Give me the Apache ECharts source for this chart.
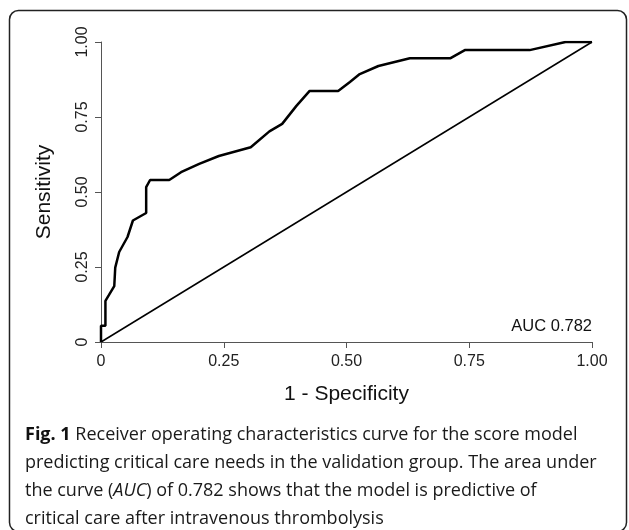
<!DOCTYPE html>
<html>
<head>
<meta charset="utf-8">
<script src="https://cdn.jsdelivr.net/npm/echarts@6/dist/echarts.min.js"></script>
<style>
  html, body { margin: 0; padding: 0; background: #fff; }
  #chart { width: 629px; height: 530px; }
</style>
</head>
<body>
<div id="chart"></div>
<script>
// ROC curve points
const fpr = [0, 0, 0.009, 0.009, 0.016, 0.027, 0.029, 0.037, 0.054, 0.065, 0.092, 0.092, 0.10,
  0.139, 0.163, 0.20, 0.24, 0.305, 0.343, 0.369, 0.398, 0.425, 0.483, 0.507, 0.527, 0.565,
  0.629, 0.712, 0.741, 0.873, 0.946, 1.0];
const tpr = [0, 0.054, 0.054, 0.137, 0.156, 0.186, 0.248, 0.30, 0.35, 0.405, 0.43, 0.516, 0.54,
  0.54, 0.566, 0.594, 0.62, 0.649, 0.702, 0.727, 0.787, 0.837, 0.837, 0.867, 0.893, 0.92,
  0.946, 0.946, 0.973, 0.973, 1.0, 1.0];
// reference diagonal
const diagX = [0, 1];
const diagY = [0, 1];

const tickLabel = (v) => (v === 0 ? "0" : v.toFixed(2));

let chart = echarts.init(document.getElementById("chart"), null, { renderer: "canvas" });

let option = {
  backgroundColor: "#fff",
  animation: false,
  grid: { left: 101, right: 37, top: 42, bottom: 188 },
  xAxis: {
    type: "value",
    min: 0,
    max: 1,
    interval: 0.25,
    name: "1 - Specificity",
    nameLocation: "middle",
    nameGap: 42,
    nameTextStyle: { fontFamily: "Liberation Sans", fontSize: 21, color: "#111" },
    axisLine: { lineStyle: { color: "#555", width: 1 } },
    axisTick: { show: true, length: 6, lineStyle: { color: "#555" } },
    axisLabel: { formatter: tickLabel, fontFamily: "Liberation Sans", fontSize: 16, color: "#222", margin: 12 },
    splitLine: { show: false },
  },
  yAxis: {
    type: "value",
    min: 0,
    max: 1,
    interval: 0.25,
    name: "Sensitivity",
    nameLocation: "middle",
    nameGap: 46,
    nameRotate: 90,
    nameTextStyle: { fontFamily: "Liberation Sans", fontSize: 21, color: "#111" },
    axisLine: { show: true, lineStyle: { color: "#555", width: 1 } },
    axisTick: { show: true, length: 6, lineStyle: { color: "#555" } },
    axisLabel: { formatter: tickLabel, rotate: 90, fontFamily: "Liberation Sans", fontSize: 16, color: "#222", margin: 10 },
    splitLine: { show: false },
  },
  series: [
    {
      name: "ROC",
      type: "line",
      data: fpr.map((x, i) => [x, tpr[i]]),
      symbol: "none",
      lineStyle: { color: "#000", width: 2.5 },
      z: 3,
    },
    {
      name: "diagonal",
      type: "line",
      data: diagX.map((x, i) => [x, diagY[i]]),
      symbol: "none",
      lineStyle: { color: "#000", width: 1.5 },
      z: 2,
    },
  ],
  graphic: [
    {
      type: "rect",
      shape: { x: 9.5, y: 10.5, width: 617, height: 521, r: 9 },
      style: { fill: "none", stroke: "#222", lineWidth: 1.5 },
      silent: true,
    },
    {
      type: "text",
      right: 37,
      top: 318,
      style: { text: "AUC 0.782", font: "16.5px 'Liberation Sans'", fill: "#111", textAlign: "right" },
    },
    {
      type: "text",
      left: 25,
      top: 421,
      style: {
        text:
          "{b|Fig. 1} Receiver operating characteristics curve for the score model\n" +
          "predicting critical care needs in the validation group. The area under\n" +
          "the curve ({i|AUC}) of 0.782 shows that the model is predictive of\n" +
          "critical care after intravenous thrombolysis",
        font: "18px 'Open Sans'",
        fill: "#1a1a1a",
        lineHeight: 28,
        rich: {
          b: { fontWeight: "bold", fontFamily: "Open Sans", fontSize: 18, fill: "#111", lineHeight: 28 },
          i: { fontStyle: "italic", fontFamily: "Open Sans", fontSize: 18, fill: "#1a1a1a", lineHeight: 28 },
        },
      },
    },
  ],
};

chart.setOption(option);
</script>
</body>
</html>
